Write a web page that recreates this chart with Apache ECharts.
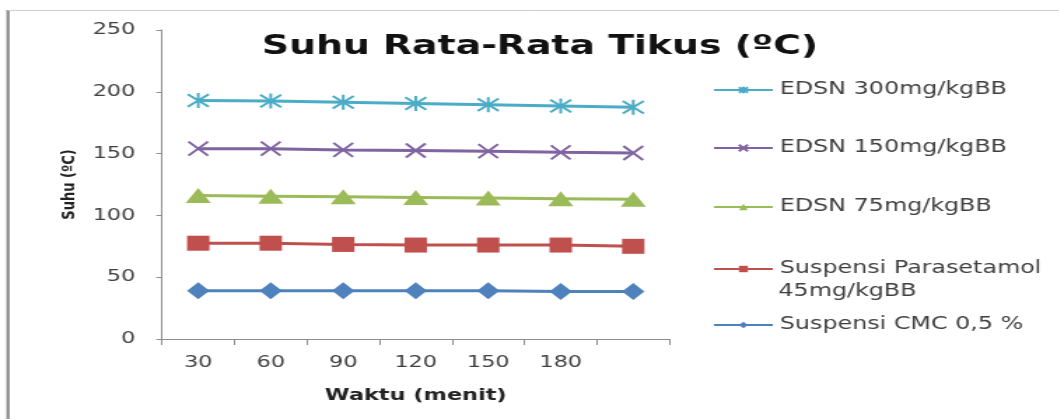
<!DOCTYPE html>
<html>
<head>
<meta charset="utf-8">
<script src="https://cdn.jsdelivr.net/npm/echarts@6/dist/echarts.min.js"></script>
<style>
  html, body { margin: 0; padding: 0; background: #fff; overflow: hidden; }
  /* the source picture is stretched sideways, so the chart is drawn narrow and widened */
  #wrap { width: 1059px; height: 419px; overflow: hidden; }
  #chart { width: 757px; height: 419px; transform: scaleX(1.4); transform-origin: 0 0; }
</style>
</head>
<body>
<div id="wrap"><div id="chart"></div></div>
<script>
// waktu (menit); the last category has no label in the original
const categories = ['30', '60', '90', '120', '150', '180', ''];

const cmc = [39, 39, 39, 39, 39, 38.5, 38.5];
const parasetamol = [77.5, 77.5, 76.5, 76, 76, 76, 75];
const edsn75 = [116, 115.5, 115, 114.5, 114, 113.5, 113];
const edsn150 = [154, 154, 153, 152.5, 152, 151, 150.5];
const edsn300 = [193, 192.5, 191.5, 190.5, 189.5, 188.5, 187.5];

const y_ticks = { min: 0, max: 250, interval: 50 };

const cross_path = 'path://M0 0 L10 10 M10 0 L0 10';
const star_path = 'path://M0 0 L10 10 M10 0 L0 10 M5 -1 L5 11';

const label_color = '#404040';
const axis_color = '#8c8c8c';
const font = 'DejaVu Sans';

const series_def = [
    { name: 'EDSN 300mg/kgBB', data: edsn300, color: '#4bacc6', symbol: star_path, size: 15, stroke: true, top: 78 },
    { name: 'EDSN 150mg/kgBB', data: edsn150, color: '#8064a2', symbol: cross_path, size: 14, stroke: true, top: 136 },
    { name: 'EDSN 75mg/kgBB', data: edsn75, color: '#9bbb59', symbol: 'triangle', size: [18, 15], stroke: false, top: 195 },
    { name: 'Suspensi Parasetamol 45mg/kgBB', data: parasetamol, color: '#c0504d', symbol: 'rect', size: [16, 15], stroke: false, top: 257 },
    { name: 'Suspensi CMC 0,5 %', data: cmc, color: '#4f81bd', symbol: 'diamond', size: [16, 17], stroke: false, top: 313 },
];

let chart = echarts.init(document.getElementById('chart'));

let legends = series_def.map(s => ({
    data: [s.name],
    orient: 'vertical',
    left: 509,
    top: s.top,
    padding: 0,
    itemWidth: 42,
    itemHeight: 8,
    itemGap: 0,
    selectedMode: false,
    // the long name wraps in the original; its second line is drawn below
    formatter: name => name.replace(' 45mg/kgBB', ''),
    textStyle: { fontFamily: font, fontSize: 17, color: label_color, lineHeight: 24 }
}));

let option = {
    backgroundColor: '#fff',
    animation: false,
    title: {
        text: 'Suhu Rata-Rata Tikus (ºC)',
        left: 187,
        top: 33,
        padding: 0,
        textStyle: { fontFamily: font, fontWeight: 'bold', fontSize: 27, color: '#111' }
    },
    legend: legends,
    grid: { left: 115.7, right: 278.8, top: 30, bottom: 80 },
    xAxis: {
        type: 'category',
        data: categories,
        boundaryGap: true,
        name: 'Waktu (menit)',
        nameLocation: 'middle',
        nameGap: 49,
        nameTextStyle: { fontFamily: font, fontWeight: 'bold', fontSize: 16, color: '#222' },
        axisLine: { lineStyle: { color: axis_color, width: 1 } },
        axisTick: { show: true, length: 6, lineStyle: { color: axis_color } },
        axisLabel: { fontFamily: font, fontSize: 16, color: label_color, margin: 16 },
        splitLine: { show: false }
    },
    yAxis: {
        type: 'value',
        min: y_ticks.min,
        max: y_ticks.max,
        interval: y_ticks.interval,
        name: 'Suhu (ºC)',
        nameLocation: 'middle',
        nameGap: 60,
        nameRotate: 90,
        nameTextStyle: { fontFamily: font, fontWeight: 'bold', fontSize: 13, color: '#222' },
        axisLine: { show: true, lineStyle: { color: axis_color, width: 1 } },
        axisTick: { show: true, length: 4, lineStyle: { color: axis_color } },
        axisLabel: { fontFamily: font, fontSize: 16, color: label_color, margin: 19 },
        splitLine: { show: false }
    },
    graphic: [
        { type: 'line', shape: { x1: 5.7, y1: 10, x2: 5.7, y2: 419 }, style: { stroke: '#8a8a8a', lineWidth: 2.2 } },
        { type: 'line', shape: { x1: 5.7, y1: 10.5, x2: 757, y2: 10.5 }, style: { stroke: '#d0d0d0', lineWidth: 1 } },
        {
            type: 'text', left: 556, top: 283,
            style: { text: '45mg/kgBB', fontFamily: font, fontSize: 17, fill: label_color }
        }
    ],
    series: series_def.map(s => ({
        name: s.name,
        type: 'line',
        data: s.data,
        symbol: s.symbol,
        symbolSize: s.size,
        lineStyle: { color: s.color, width: 3 },
        itemStyle: s.stroke
            ? { color: s.color, borderColor: s.color, borderWidth: 2 }
            : { color: s.color },
        emphasis: { disabled: true }
    }))
};

chart.setOption(option);
</script>
</body>
</html>
